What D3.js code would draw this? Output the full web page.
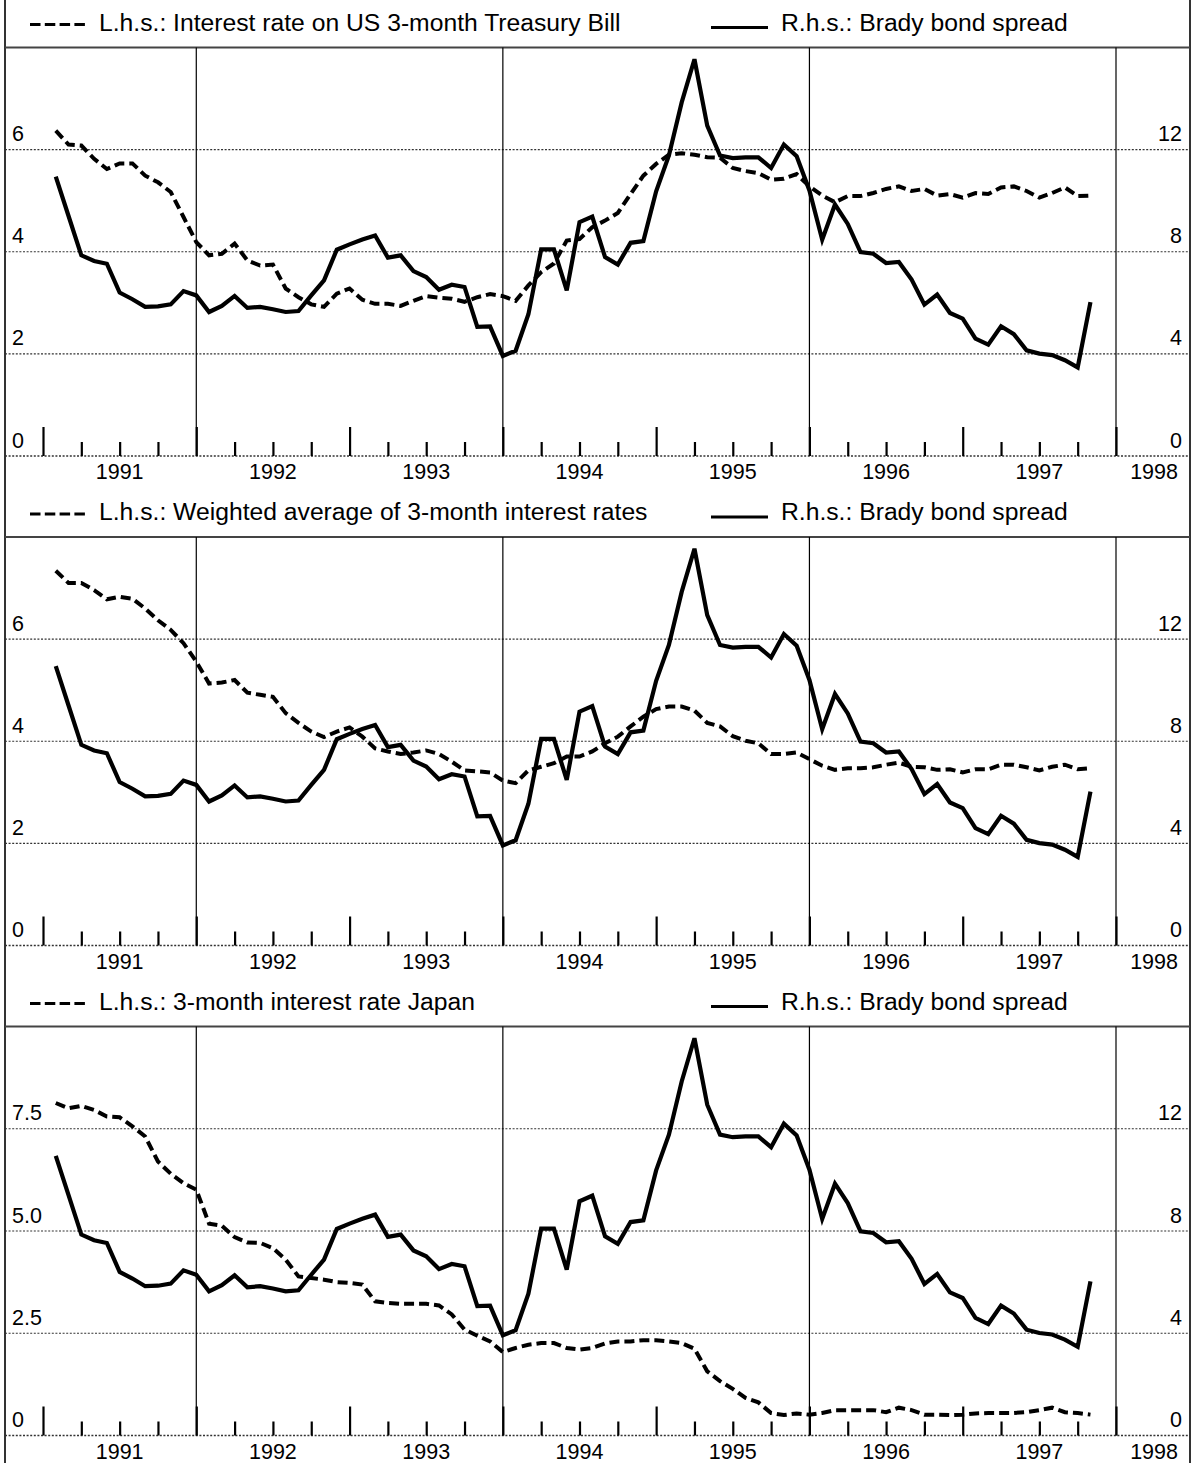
<!DOCTYPE html>
<html><head><meta charset="utf-8">
<script src="https://cdn.jsdelivr.net/npm/d3@7"></script>
<style>
html,body{margin:0;padding:0;background:#fff;}
text{font-family:"Liberation Sans",Arial,Helvetica,sans-serif;fill:#000;}
</style></head>
<body>
<svg id="chart" width="1192" height="1463"></svg>
<script>
// ---- data (monthly, Jan 1991 .. Oct 1997, month-end) ----
const startYear = 1991;
const bradySpread = [10.94, 9.40, 7.86, 7.64, 7.53, 6.40, 6.14, 5.84, 5.86, 5.94,
  6.46, 6.29, 5.64, 5.88, 6.27, 5.80, 5.84, 5.75, 5.64, 5.68,
  6.29, 6.88, 8.08, 8.29, 8.48, 8.64, 7.77, 7.86, 7.24, 7.01,
  6.51, 6.71, 6.62, 5.06, 5.08, 3.92, 4.12, 5.55, 8.09, 8.09,
  6.49, 9.16, 9.38, 7.79, 7.50, 8.35, 8.42, 10.37, 11.77, 13.85,
  15.54, 12.94, 11.77, 11.67, 11.70, 11.70, 11.28, 12.20, 11.74, 10.40,
  8.47, 9.85, 9.09, 7.99, 7.92, 7.56, 7.60, 6.91, 5.93, 6.32,
  5.60, 5.38, 4.60, 4.36, 5.08, 4.77, 4.14, 4.01, 3.95, 3.75,
  3.47, 6.03];
const usTBill = [6.37, 6.10, 6.08, 5.82, 5.62, 5.73, 5.73, 5.49, 5.36, 5.17,
  4.68, 4.19, 3.93, 3.96, 4.16, 3.83, 3.73, 3.75, 3.28, 3.11,
  2.97, 2.92, 3.18, 3.28, 3.06, 2.98, 2.98, 2.94, 3.04, 3.13,
  3.10, 3.08, 3.02, 3.11, 3.17, 3.13, 3.04, 3.34, 3.60, 3.77,
  4.22, 4.25, 4.48, 4.61, 4.76, 5.13, 5.49, 5.72, 5.90, 5.93,
  5.90, 5.85, 5.84, 5.64, 5.58, 5.54, 5.41, 5.43, 5.52, 5.28,
  5.10, 4.97, 5.09, 5.09, 5.15, 5.23, 5.28, 5.19, 5.23, 5.10,
  5.13, 5.06, 5.15, 5.13, 5.26, 5.28, 5.19, 5.06, 5.15, 5.26,
  5.09, 5.10];
const weightedAvg = [7.34, 7.10, 7.10, 6.96, 6.78, 6.83, 6.79, 6.60, 6.37, 6.18,
  5.92, 5.56, 5.13, 5.15, 5.20, 4.95, 4.91, 4.87, 4.55, 4.36,
  4.19, 4.08, 4.19, 4.27, 4.09, 3.86, 3.80, 3.75, 3.78, 3.82,
  3.75, 3.60, 3.43, 3.41, 3.39, 3.23, 3.18, 3.43, 3.50, 3.57,
  3.70, 3.70, 3.80, 3.96, 4.09, 4.29, 4.48, 4.63, 4.68, 4.68,
  4.60, 4.36, 4.29, 4.10, 4.01, 3.96, 3.75, 3.75, 3.78, 3.65,
  3.52, 3.44, 3.47, 3.47, 3.49, 3.54, 3.58, 3.50, 3.49, 3.44,
  3.45, 3.39, 3.45, 3.45, 3.54, 3.54, 3.49, 3.43, 3.50, 3.54,
  3.45, 3.47];
const japanRate = [8.13, 8.00, 8.06, 7.96, 7.80, 7.78, 7.56, 7.31, 6.70, 6.40,
  6.17, 6.01, 5.18, 5.13, 4.85, 4.72, 4.71, 4.58, 4.30, 3.89,
  3.85, 3.81, 3.75, 3.73, 3.69, 3.28, 3.24, 3.22, 3.22, 3.22,
  3.18, 2.96, 2.59, 2.44, 2.30, 2.04, 2.14, 2.22, 2.26, 2.26,
  2.14, 2.10, 2.14, 2.25, 2.30, 2.30, 2.33, 2.33, 2.30, 2.26,
  2.12, 1.57, 1.33, 1.14, 0.92, 0.81, 0.55, 0.50, 0.54, 0.51,
  0.55, 0.62, 0.62, 0.62, 0.62, 0.57, 0.68, 0.62, 0.51, 0.51,
  0.50, 0.51, 0.54, 0.55, 0.55, 0.55, 0.57, 0.62, 0.68, 0.57,
  0.55, 0.51];
const yearLabels = [1991, 1992, 1993, 1994, 1995, 1996, 1997, 1998];
const gridYears = [1992, 1994, 1996, 1998];
const leftTicksA = [0, 2, 4, 6];
const leftTicksB = [0, 2.5, 5, 7.5];
const rightTicks = [0, 4, 8, 12];
const legendLeft = ["L.h.s.: Interest rate on US 3-month Treasury Bill",
  "L.h.s.: Weighted average of 3-month interest rates",
  "L.h.s.: 3-month interest rate Japan"];
const legendRight = "R.h.s.: Brady bond spread";

// ---- layout ----
const svg = d3.select("#chart");
const FL = 5, FR = 1190;
const x = d3.scaleLinear().domain([1991, 1998]).range([43, 1116]);
const tx = i => startYear + (i + 1) / 12;

const panels = [
  {top: 47.5, bottom: 456, lmax: 8, lt: leftTicksA, fmt: d3.format("d"), data: usTBill, leg: legendLeft[0]},
  {top: 537, bottom: 945.5, lmax: 8, lt: leftTicksA, fmt: d3.format("d"), data: weightedAvg, leg: legendLeft[1]},
  {top: 1026.5, bottom: 1435.5, lmax: 10, lt: leftTicksB, fmt: d => d === 0 ? "0" : d3.format(".1f")(d), data: japanRate, leg: legendLeft[2]}
];

// frame sides
svg.append("line").attr("x1", FL).attr("x2", FL).attr("y1", 0).attr("y2", 1463).attr("stroke", "#333").attr("stroke-width", 2);
svg.append("line").attr("x1", FR).attr("x2", FR).attr("y1", 0).attr("y2", 1463).attr("stroke", "#333").attr("stroke-width", 2);

panels.forEach(p => {
  const g = svg.append("g");
  const yL = d3.scaleLinear().domain([0, p.lmax]).range([p.bottom, p.top]);
  const yR = d3.scaleLinear().domain([0, 16]).range([p.bottom, p.top]);

  // legend
  const lb = p.top - 17;
  g.append("line").attr("x1", 30).attr("x2", 85).attr("y1", lb - 6).attr("y2", lb - 6)
    .attr("stroke", "#000").attr("stroke-width", 3.2).attr("stroke-dasharray", "10.5,4.3");
  g.append("text").attr("x", 99).attr("y", lb).attr("font-size", 24.7).text(p.leg);
  g.append("line").attr("x1", 711).attr("x2", 768).attr("y1", lb - 3).attr("y2", lb - 3)
    .attr("stroke", "#000").attr("stroke-width", 3.2);
  g.append("text").attr("x", 781).attr("y", lb).attr("font-size", 24.7).text(legendRight);

  // top border of plot area
  g.append("line").attr("x1", FL).attr("x2", FR).attr("y1", p.top).attr("y2", p.top)
    .attr("stroke", "#444").attr("stroke-width", 2);

  // dotted horizontal gridlines
  g.selectAll(".hg").data(p.lt).join("line")
    .attr("x1", FL).attr("x2", FR).attr("y1", d => yL(d)).attr("y2", d => yL(d))
    .attr("stroke", "#333").attr("stroke-width", d => d === 0 ? 1.6 : 1.2).attr("stroke-dasharray", "2,1.6");

  // vertical gridlines
  g.selectAll(".vg").data(gridYears).join("line")
    .attr("x1", d => x(d)).attr("x2", d => x(d)).attr("y1", p.top).attr("y2", p.bottom)
    .attr("stroke", "#000").attr("stroke-width", 1.2);

  // ticks (major years, minor quarters)
  const major = d3.range(1991, 1999);
  const minor = d3.range(0, 30).map(i => 1990.75 + i * 0.25).filter(v => v > 1990.8 && v < 1998.4 && Math.abs(v - Math.round(v)) > 0.01);
  const axMaj = d3.axisTop(x).tickValues(major).tickSize(29).tickFormat("");
  const axMin = d3.axisTop(x).tickValues(minor).tickSize(14).tickFormat("");
  [axMaj, axMin].forEach(ax => {
    const a = g.append("g").attr("transform", `translate(0,${p.bottom})`).call(ax);
    a.select(".domain").remove();
    a.selectAll("line").attr("stroke", "#000").attr("stroke-width", 2.2);
  });

  // year labels
  g.selectAll(".yl").data(yearLabels).join("text")
    .attr("x", d => d === 1998 ? 1178 : x(d + 0.5))
    .attr("text-anchor", d => d === 1998 ? "end" : "middle")
    .attr("y", p.bottom + 23).attr("font-size", 21.5).text(d => d);

  // left labels
  g.selectAll(".ll").data(p.lt).join("text")
    .attr("x", 12).attr("y", d => yL(d) - 8.5).attr("font-size", 21.5).text(p.fmt);
  // right labels
  g.selectAll(".rl").data(rightTicks).join("text")
    .attr("x", 1182).attr("text-anchor", "end").attr("y", d => yR(d) - 8.5).attr("font-size", 21.5).text(d => d);

  // lines
  const lineL = d3.line().x((d, i) => x(tx(i))).y(d => yL(d));
  const lineR = d3.line().x((d, i) => x(tx(i))).y(d => yR(d));
  g.append("path").datum(p.data).attr("d", lineL).attr("fill", "none")
    .attr("stroke", "#000").attr("stroke-width", 4).attr("stroke-dasharray", "10,5");
  g.append("path").datum(bradySpread).attr("d", lineR).attr("fill", "none")
    .attr("stroke", "#000").attr("stroke-width", 4.2).attr("stroke-linejoin", "miter");
});
</script>
</body></html>
